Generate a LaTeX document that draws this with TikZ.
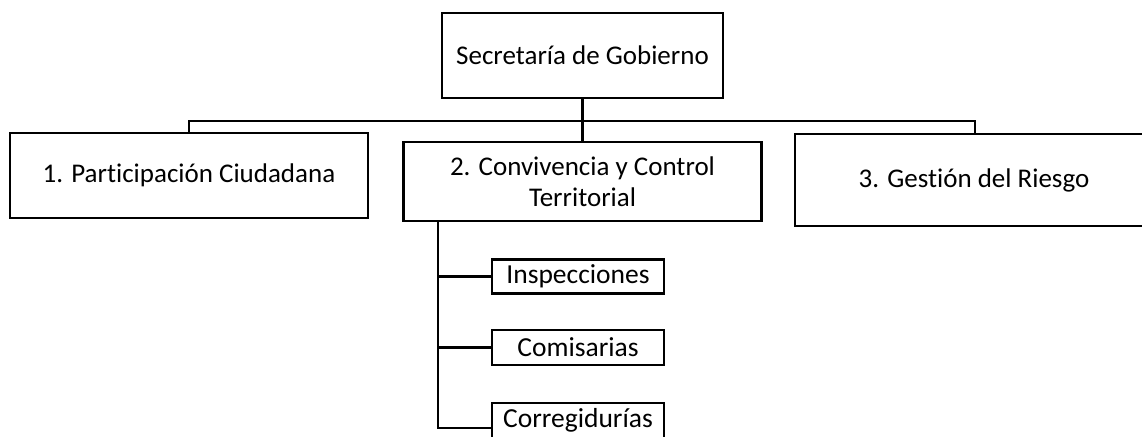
\documentclass[tikz,border=0pt]{standalone}
\usepackage{fontspec}
\setmainfont[RawFeature={-liga}]{Carlito}
\begin{document}
\begin{tikzpicture}[x=1pt,y=-1pt,
  orgbox/.style={draw, line width=2.2pt, rectangle, inner sep=0pt, align=center, font=\fontsize{27}{31}\selectfont},
  subbox/.style={draw, line width=2.2pt, rectangle, inner sep=0pt, align=center, font=\fontsize{27.5}{32}\selectfont},
  link/.style={line width=2.2pt}]
\useasboundingbox (0,0) rectangle (1142,436);
\begin{scope}
\clip (0,0) rectangle (1142,436);
\node[orgbox, minimum width=281pt, minimum height=85pt] (top) at (582.5,55.5) {Secretaría de Gobierno};
\node[orgbox, minimum width=358pt, minimum height=85pt] (left) at (189,175.5) {1. Participación Ciudadana};
\node[orgbox, minimum width=358pt, minimum height=79pt] (mid) at (582.5,181.5) {2. Convivencia y Control\\Territorial};
\node[orgbox, minimum width=370pt, minimum height=92pt] (right) at (980,180) {};
\node[font=\fontsize{27}{31}\selectfont] (rightlabel) at (974,180) {3. Gestión del Riesgo};
\node[subbox, minimum width=172pt, minimum height=34pt] (insp) at (578,276.5) {Inspecciones};
\node[subbox, minimum width=172pt, minimum height=35pt] (comi) at (578,347.5) {Comisarias};
\node[subbox, minimum width=172pt, minimum height=50pt, anchor=north] (corr) at (578,402) {};
\node[font=\fontsize{27.5}{32}\selectfont] (corrlabel) at (578,420) {Corregidurías};
\coordinate (bus) at (583,121);
\coordinate (spine) at (438,0);
\draw[link] (top.south) -- (mid.north);
\draw[link] (left.north) |- (bus) -| (975,0 |- right.north);
\draw[link] (spine |- mid.south) -- (spine |- corr.west) -- (corr.west);
\draw[link] (spine |- insp.west) -- (insp.west);
\draw[link] (spine |- comi.west) -- (comi.west);
\end{scope}
\end{tikzpicture}
\end{document}
